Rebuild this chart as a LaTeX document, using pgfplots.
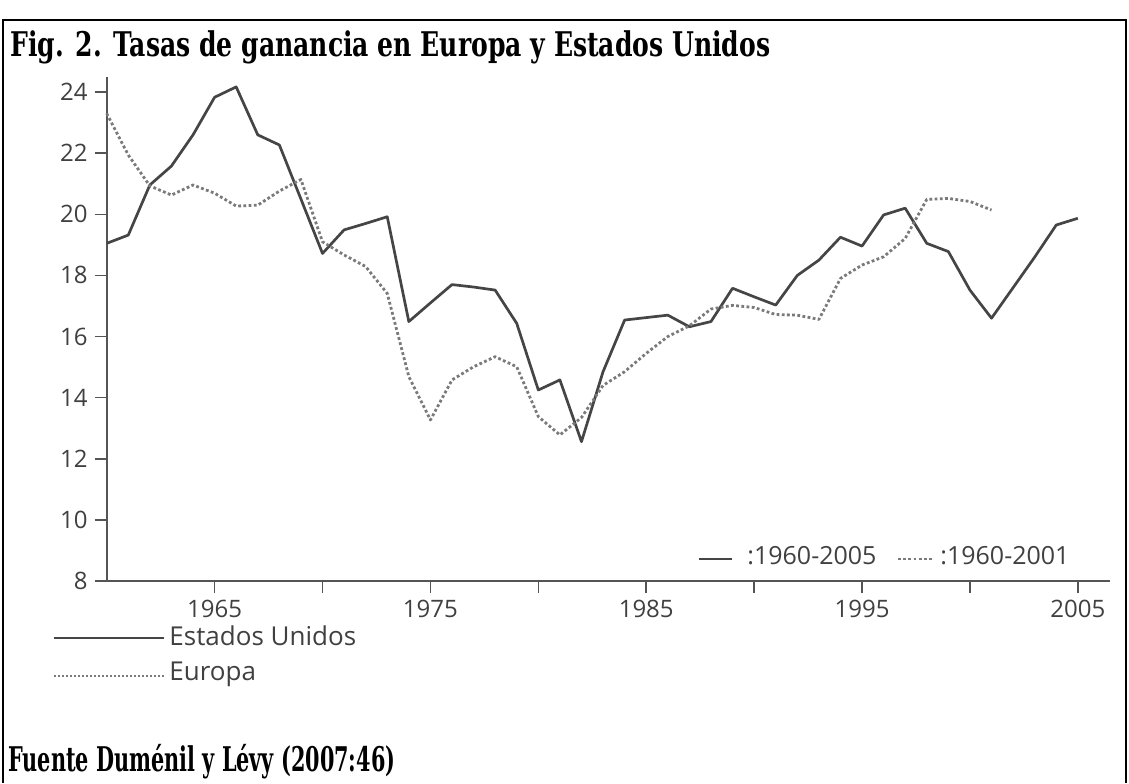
\documentclass[border=0pt]{standalone}
\usepackage{pgfplots}
\pgfplotsset{compat=1.18}
\usepackage{graphicx}
\usepackage{fontspec}
\setmainfont{Open Sans}
\newfontfamily\titlefont{DejaVu Serif}
\definecolor{lin}{HTML}{454545}
\definecolor{eur}{HTML}{7A7A7A}
\definecolor{txt}{HTML}{404040}
\definecolor{axc}{HTML}{555555}
\pgfplotstableread{
year us
1960 19.05
1961 19.32
1962 20.96
1963 21.58
1964 22.60
1965 23.83
1966 24.17
1967 22.60
1968 22.27
1969 20.50
1970 18.72
1971 19.49
1972 19.70
1973 19.92
1974 16.49
1975 17.10
1976 17.70
1977 17.62
1978 17.52
1979 16.43
1980 14.25
1981 14.58
1982 12.56
1983 14.85
1984 16.54
1985 16.62
1986 16.70
1987 16.32
1988 16.49
1989 17.58
1990 17.30
1991 17.03
1992 18.00
1993 18.50
1994 19.25
1995 18.96
1996 19.98
1997 20.20
1998 19.05
1999 18.78
2000 17.52
2001 16.60
2002 17.60
2003 18.60
2004 19.65
2005 19.87
}\ustable
\pgfplotstableread{
year eu
1960 23.30
1961 21.94
1962 20.93
1963 20.63
1964 20.96
1965 20.69
1966 20.27
1967 20.30
1968 20.76
1969 21.14
1970 19.10
1971 18.67
1972 18.29
1973 17.41
1974 14.69
1975 13.27
1976 14.58
1977 15.01
1978 15.34
1979 15.01
1980 13.38
1981 12.78
1982 13.35
1983 14.40
1984 14.85
1985 15.45
1986 16.00
1987 16.35
1988 16.90
1989 17.02
1990 16.95
1991 16.72
1992 16.70
1993 16.56
1994 17.90
1995 18.34
1996 18.61
1997 19.21
1998 20.49
1999 20.52
2000 20.42
2001 20.14
}\eutable
\begin{document}
\begin{tikzpicture}[x=1pt,y=1pt]
\useasboundingbox (0,0) rectangle (564.5,391.5);
\draw[line width=1.3pt] (1.5,0) -- (1.5,381.5) -- (563,381.5) -- (563,0);
\node[anchor=base west, inner sep=0pt] at (5,363) {\resizebox{380pt}{\height}{\titlefont\bfseries\fontsize{17}{20}\selectfont Fig. 2. Tasas de ganancia en Europa y Estados Unidos}};
\node[anchor=base west, inner sep=0pt] at (4,6) {\resizebox{193.5pt}{\height}{\titlefont\bfseries\fontsize{17}{20}\selectfont Fuente Duménil y Lévy (2007:46)}};
\begin{axis}[
  at={(53.35pt,101pt)}, anchor=south west,
  scale only axis, width=501.75pt, height=252.1pt,
  xmin=1960, xmax=2006.5, ymin=8, ymax=24.5,
  axis x line*=bottom, axis y line*=left,
  axis line style={draw=axc, line width=0.9pt},
  xtick={1965,1970,...,2005},
  xticklabels={1965,,1975,,1985,,1995,,2005},
  ytick={8,10,...,24},
  tick align=outside, major tick length=6pt,
  tick style={draw=axc, line width=0.8pt},
  ticklabel style={font=\fontsize{12}{14}\selectfont, text=txt},
  /pgf/number format/assume math mode=true,
  /pgf/number format/1000 sep={},
  clip=false,
]
\addplot[lin, line width=1.35pt, line join=round] table[x=year, y=us] {\ustable};
\addplot[eur, line width=1.4pt, dash pattern=on 1.4pt off 1.2pt, line join=round] table[x=year, y=eu] {\eutable};
\end{axis}
% inner legend
\draw[lin, line width=1.3pt] (349.5,112) -- (366,112);
\node[anchor=west, inner sep=0pt, text=txt, font=\fontsize{12.5}{14}\selectfont] at (373.5,113.5) {:1960-2005};
\draw[eur, line width=1.2pt, dash pattern=on 1.4pt off 1.2pt] (449,112) -- (466.5,112);
\node[anchor=west, inner sep=0pt, text=txt, font=\fontsize{12.5}{14}\selectfont] at (470,113.5) {:1960-2001};
% outer legend
\draw[lin, line width=1.3pt] (27,72.5) -- (82,72.5);
\node[anchor=west, inner sep=0pt, text=txt, font=\fontsize{13}{15}\selectfont] at (84.5,73.5) {Estados Unidos};
\draw[eur, line width=1.1pt, dash pattern=on 1pt off 1pt] (27,53.5) -- (82,53.5);
\node[anchor=west, inner sep=0pt, text=txt, font=\fontsize{13}{15}\selectfont] at (84.5,54.5) {Europa};
\end{tikzpicture}
\end{document}
